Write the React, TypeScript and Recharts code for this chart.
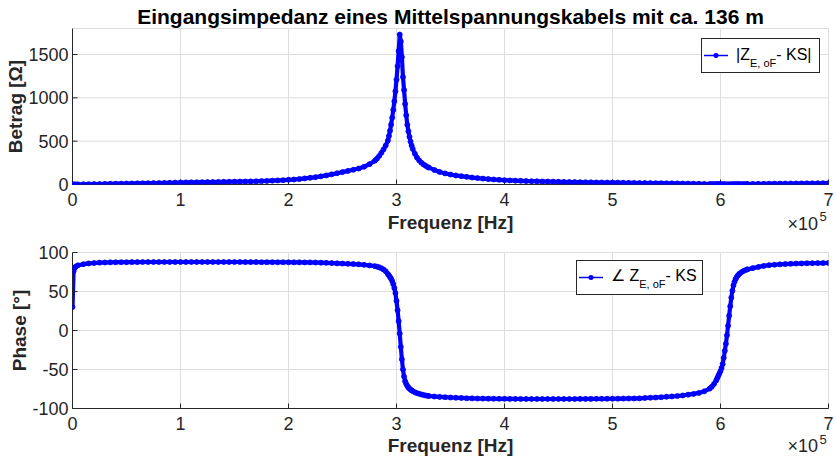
import React from 'react';
import { LineChart, Line, XAxis, YAxis, CartesianGrid } from 'recharts';

// ---------- data (frequency in kHz) ----------
const freqA = [0, 1, 2, 3, 5, 10, 15, 20, 25, 30, 35, 40, 45, 50, 55, 60, 65, 70, 75, 80, 85, 90, 95, 100,
  105, 110, 115, 120, 125, 130, 135, 140, 145, 150, 155, 160, 165, 170, 175, 180, 185, 190, 195, 200,
  205, 210, 215, 220, 225, 230, 235, 240, 245, 250, 255, 260, 265, 270, 275, 280];
const betragA = [0, 0.3, 0.6, 0.9, 1.5, 3, 4, 5, 6, 7, 8, 9, 10, 11, 12, 13, 14, 15, 16, 17, 18.5, 20, 21.5, 23,
  24, 25, 26, 27, 28, 29, 30, 31, 32, 33, 34, 35, 36, 37, 39, 41, 44, 47, 50, 54,
  58, 63, 70, 77, 85, 94, 105, 117, 130, 143, 157, 170, 184, 205, 235, 275];
const phaseA = [30, 76, 80, 82, 83.5, 85, 86, 86.5, 87, 87.2, 87.4, 87.5, 87.6, 87.6, 87.7, 87.7, 87.8, 87.8, 87.8, 87.8, 87.8, 87.8, 87.8, 87.8,
  87.8, 87.8, 87.8, 87.8, 87.8, 87.8, 87.8, 87.8, 87.8, 87.8, 87.8, 87.7, 87.7, 87.7, 87.6, 87.6, 87.6, 87.5, 87.5, 87.5,
  87.4, 87.4, 87.3, 87.3, 87.1, 86.9, 86.7, 86.4, 86.1, 85.8, 85.5, 85.2, 84.8, 84.2, 83.4, 82.5];

const freqB = [282, 284, 286, 288, 290, 292, 293, 294, 295, 296, 297, 298, 299, 300, 301, 302, 303, 304, 305,
  306, 307, 308, 309, 310, 311, 312, 313, 314, 315, 317, 319, 321, 323, 325, 327, 329];
const betragB = [300, 330, 365, 405, 450, 505, 560, 620, 690, 770, 860, 960, 1075, 1210, 1365, 1540, 1730, 1650, 1470,
  1240, 1090, 930, 800, 690, 615, 550, 495, 450, 412, 355, 310, 278, 252, 232, 215, 200];
const phaseB = [81.8, 81, 79.8, 78.2, 76, 72.5, 70.5, 68.5, 66.5, 63.5, 59.5, 54.5, 48, 38, 26, 12, -4, -21, -37,
  -50, -59, -65, -68.5, -71, -73, -74.5, -75.8, -76.8, -77.7, -79.2, -80.3, -81.2, -82, -82.7, -83.3, -83.8];

const freqC = [330, 335, 340, 345, 350, 355, 360, 365, 370, 375, 380, 385, 390, 395, 400, 405, 410, 415, 420, 425,
  430, 435, 440, 445, 450, 455, 460, 465, 470, 475, 480, 485, 490, 495, 500, 505, 510, 515, 520, 525,
  530, 535, 540, 545, 550, 555, 560, 565, 570, 575, 580, 585, 590];
const betragC = [195, 168, 145, 128, 115, 104, 96, 88, 80, 74, 68, 63, 58, 54, 50, 47, 44, 42, 40, 38,
  37, 35, 34, 33, 31, 30, 29, 28, 27, 26, 25, 24, 23, 22.5, 22, 21, 20, 19, 18, 17.5,
  17, 16, 15.5, 15, 14, 13, 12, 11, 10, 9, 8, 7, 6];
const phaseC = [-84, -84.6, -85.1, -85.5, -85.9, -86.2, -86.5, -86.8, -87, -87.2, -87.3, -87.4, -87.5, -87.6, -87.6, -87.7, -87.7, -87.8, -87.8, -87.8,
  -87.8, -87.8, -87.8, -87.8, -87.8, -87.8, -87.8, -87.8, -87.7, -87.7, -87.7, -87.6, -87.6, -87.5, -87.5, -87.4, -87.3, -87.2, -87.1, -87,
  -86.5, -86.2, -85.9, -85.5, -85, -84.5, -84, -83.3, -82.3, -81.3, -80, -78, -74.5];

const freqD = [592, 594, 596, 597, 598, 599, 600, 601, 602, 603, 604, 605, 606, 607, 608, 609, 610, 611, 612, 613,
  614, 615, 616, 617, 618, 620, 622, 624];
const betragD = [5.5, 5, 4.5, 4.2, 3.9, 3.5, 3.1, 2.7, 2.3, 1.9, 1.5, 1.2, 1, 0.9, 1, 1.2, 1.5, 1.8, 2.1, 2.4,
  2.7, 3, 3.3, 3.6, 3.9, 4.4, 4.9, 5.3];
const phaseD = [-72, -68.5, -64, -61, -58, -55, -52, -48, -43, -35, -26, -17, -6, 6, 19, 31, 42, 51, 58, 62.5,
  66, 68.5, 70.5, 72, 73.3, 75.3, 76.8, 78];

const freqE = [625, 630, 635, 640, 645, 650, 655, 660, 665, 670, 675, 680, 685, 690, 695, 700];
const betragE = [5.6, 6.5, 7.4, 8.2, 9, 9.7, 10.4, 11, 11.6, 12.2, 12.8, 13.4, 14, 14.6, 15.2, 15.8];
const phaseE = [78.4, 80, 81.5, 82.8, 83.8, 84.3, 84.8, 85.2, 85.5, 85.8, 86, 86.2, 86.3, 86.4, 86.5, 86.6];

const xTicks = [0, 100000, 200000, 300000, 400000, 500000, 600000, 700000];
const betragTicks = [0, 500, 1000, 1500];
const phaseTicks = [-100, -50, 0, 50, 100];

const titleText = 'Eingangsimpedanz eines Mittelspannungskabels mit ca. 136 m';
const xLabel = 'Frequenz [Hz]';
const yLabelTop = 'Betrag [Ω]';
const yLabelBottom = 'Phase [°]';

// ---------- assembled table ----------
const freqKHz = [...freqA, ...freqB, ...freqC, ...freqD, ...freqE];
const betragAll = [...betragA, ...betragB, ...betragC, ...betragD, ...betragE];
const phaseAll = [...phaseA, ...phaseB, ...phaseC, ...phaseD, ...phaseE];
const data = freqKHz.map((k, i) => ({ f: k * 1000, betrag: betragAll[i], phase: phaseAll[i] }));

const FONT = '"Liberation Sans", Arial, Helvetica, sans-serif';
const AX = '#262626';
const BLUE = '#0000ff';
const tickStyle = { fontSize: 18, fill: AX, fontFamily: FONT };

type PanelProps = {
  height: number;
  mTop: number;
  mBottom: number;
  dataKey: string;
  domain: [number, number];
  ticks: number[];
};

function Panel({ height, mTop, mBottom, dataKey, domain, ticks }: PanelProps) {
  return (
    <LineChart
      width={836}
      height={height}
      data={data}
      margin={{ top: mTop, right: 7.5, bottom: mBottom, left: 12.5 }}
    >
      <CartesianGrid stroke="#dedede" strokeWidth={1} />
      <XAxis
        dataKey="f"
        type="number"
        domain={[0, 700000]}
        ticks={xTicks}
        interval={0}
        allowDataOverflow
        height={30}
        tickSize={-5}
        tickMargin={14}
        tickFormatter={(v: number) => String(v / 100000)}
        axisLine={{ stroke: AX }}
        tickLine={{ stroke: AX }}
        tick={tickStyle}
      />
      <XAxis
        xAxisId="top"
        orientation="top"
        dataKey="f"
        type="number"
        domain={[0, 700000]}
        ticks={xTicks}
        interval={0}
        allowDataOverflow
        height={0}
        tickSize={-5}
        tickFormatter={() => ''}
        axisLine={{ stroke: AX }}
        tickLine={{ stroke: AX }}
      />
      <YAxis
        type="number"
        domain={domain}
        ticks={ticks}
        interval={0}
        allowDataOverflow
        width={60}
        tickSize={-5}
        tickMargin={9}
        axisLine={{ stroke: AX }}
        tickLine={{ stroke: AX }}
        tick={tickStyle}
      />
      <YAxis
        yAxisId="right"
        orientation="right"
        type="number"
        domain={domain}
        ticks={ticks}
        interval={0}
        allowDataOverflow
        width={0}
        tickSize={-5}
        tickFormatter={() => ''}
        axisLine={{ stroke: AX }}
        tickLine={{ stroke: AX }}
      />
      <Line
        type="linear"
        dataKey={dataKey}
        stroke={BLUE}
        strokeWidth={4.2}
        strokeLinejoin="round"
        dot={{ r: 2.5, fill: BLUE, stroke: BLUE, strokeWidth: 0.8 }}
        activeDot={false}
        isAnimationActive={false}
      />
    </LineChart>
  );
}

function LegendSample({ x, y }: { x: number; y: number }) {
  return (
    <g>
      <line x1={x} y1={y} x2={x + 24} y2={y} stroke={BLUE} strokeWidth={1.5} />
      <circle cx={x + 12} cy={y} r={2.2} fill={BLUE} stroke={BLUE} strokeWidth={0.8} />
    </g>
  );
}

export default function App() {
  return (
    <div style={{ position: 'absolute', left: 0, top: 0, width: 836, height: 457, background: '#fff', overflow: 'hidden' }}>
      <div style={{ position: 'absolute', left: 0, top: 0 }}>
        <Panel height={230} mTop={28.5} mBottom={15.5} dataKey="betrag" domain={[0, 1800]} ticks={betragTicks} />
      </div>
      <div style={{ position: 'absolute', left: 0, top: 230 }}>
        <Panel height={227} mTop={22.5} mBottom={18.5} dataKey="phase" domain={[-100, 100]} ticks={phaseTicks} />
      </div>
      <svg width={836} height={457} style={{ position: 'absolute', left: 0, top: 0, pointerEvents: 'none' }}>
        <g fontFamily={FONT}>
          <text x={450.5} y={24} textAnchor="middle" fontSize={21} fontWeight="bold" fill="#000">{titleText}</text>
          <text x={450.5} y={229} textAnchor="middle" fontSize={19} fontWeight="bold" fill={AX}>{xLabel}</text>
          <text x={450.5} y={452} textAnchor="middle" fontSize={19} fontWeight="bold" fill={AX}>{xLabel}</text>
          <text x={22} y={106.5} textAnchor="middle" fontSize={19} fontWeight="bold" fill={AX} transform="rotate(-90 22 106.5)">{yLabelTop}</text>
          <text x={25.5} y={330.5} textAnchor="middle" fontSize={19} fontWeight="bold" fill={AX} transform="rotate(-90 25.5 330.5)">{yLabelBottom}</text>

          <text x={787.5} y={230} fontSize={18} fill={AX}>×10</text>
          <text x={819.5} y={221} fontSize={13} fill={AX}>5</text>
          <text x={787.5} y={452} fontSize={18} fill={AX}>×10</text>
          <text x={819.5} y={444} fontSize={13} fill={AX}>5</text>

          <rect x={701.5} y={38.5} width={118} height={34} fill="#fff" stroke={AX} strokeWidth={1} />
          <LegendSample x={704} y={55.5} />
          <text x={736} y={59.5} fontSize={16} fill="#000">
            |Z<tspan fontSize={11} dy={7}>E, oF</tspan><tspan dy={-7} fontSize={16}>- KS|</tspan>
          </text>

          <rect x={576.5} y={260.5} width={126} height={34} fill="#fff" stroke={AX} strokeWidth={1} />
          <LegendSample x={579} y={277.5} />
          <text x={611} y={281} fontSize={16} fill="#000">
            ∠ Z<tspan fontSize={11} dy={7}>E, oF</tspan><tspan dy={-7} fontSize={16}>- KS</tspan>
          </text>
        </g>
      </svg>
    </div>
  );
}
